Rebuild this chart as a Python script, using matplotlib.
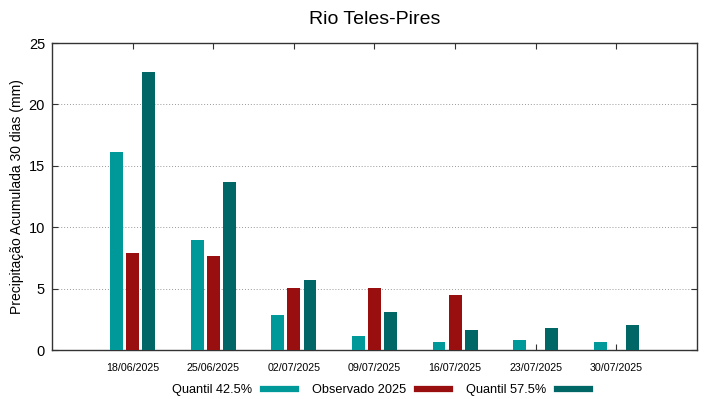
import numpy as np
import matplotlib.pyplot as plt
from matplotlib.lines import Line2D

plt.rcParams["font.family"] = ["Liberation Sans", "DejaVu Sans"]

# ── dados ──────────────────────────────────────────────────────────────────
datas = ["18/06/2025", "25/06/2025", "02/07/2025", "09/07/2025",
         "16/07/2025", "23/07/2025", "30/07/2025"]
q425 = [16.15, 8.92, 2.88, 1.12, 0.66, 0.78, 0.66]
obs2025 = [7.86, 7.62, 5.08, 5.07, 4.5, 0.0, 0.0]
q575 = [22.6, 13.7, 5.67, 3.06, 1.63, 1.83, 2.02]

COR_Q425 = "#009999"
COR_OBS = "#990e0e"
COR_Q575 = "#006666"

fig = plt.figure(figsize=(7.19, 3.99), dpi=100)
ax = fig.add_axes([0.0723, 0.1228, 0.8971, 0.7694])

x = np.arange(len(datas))
larg = 0.16
ax.bar(x - 0.2, q425, width=larg, color=COR_Q425, zorder=3)
ax.bar(x, obs2025, width=larg, color=COR_OBS, zorder=3)
ax.bar(x + 0.2, q575, width=larg, color=COR_Q575, zorder=3)

ax.set_xlim(-1, 7)
ax.set_ylim(0, 25)
ax.set_yticks([0, 5, 10, 15, 20, 25])
ax.set_xticks(x)
ax.set_xticklabels(datas, fontsize=7.7)
ax.tick_params(axis="y", labelsize=10.5, pad=5)
ax.tick_params(axis="x", pad=9)
ax.tick_params(direction="in", length=4, top=True, right=True, color="#333333")
ax.yaxis.grid(True, linestyle=(0, (1, 2)), color="#999999", linewidth=0.7, zorder=0)
for s in ax.spines.values():
    s.set_color("#333333")
    s.set_linewidth(1.0)

ax.set_ylabel("Precipitação Acumulada 30 dias (mm)", fontsize=10, labelpad=3)
ax.set_title("Rio Teles-Pires", fontsize=14, pad=14)

handles = [Line2D([], [], color=c, linewidth=4.5) for c in (COR_Q425, COR_OBS, COR_Q575)]
fig.legend(handles, ["Quantil 42.5%", "Observado 2025", "Quantil 57.5%"],
           loc="center", bbox_to_anchor=(0.53, 0.022), ncol=3,
           frameon=False, markerfirst=False, handlelength=2.6,
           columnspacing=1.25, handletextpad=0.85, fontsize=9.2)

fig.savefig("out.png", dpi=100)
